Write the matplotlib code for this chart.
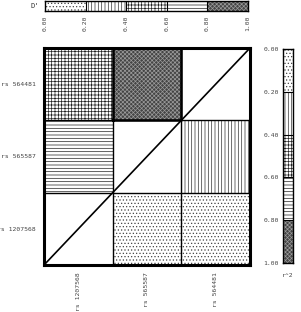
import matplotlib
matplotlib.use("Agg")
import matplotlib.pyplot as plt

plt.rcParams['hatch.linewidth'] = 0.5
plt.rcParams['font.family'] = ['DejaVu Sans Mono']

# SNP order (columns left->right, rows bottom->top)
snps = ['rs 1207568', 'rs 565587', 'rs 564481']
# D' values (upper-left triangle): (row snp, col snp, value)
dprime = [('rs 564481', 'rs 1207568', 0.50),
          ('rs 564481', 'rs 565587', 0.90),
          ('rs 565587', 'rs 1207568', 0.70)]
# r^2 values (lower-right triangle)
rsq = [('rs 565587', 'rs 564481', 0.30),
       ('rs 1207568', 'rs 565587', 0.10),
       ('rs 1207568', 'rs 564481', 0.10)]
bin_edges = [0.0, 0.2, 0.4, 0.6, 0.8, 1.0]
bin_labels = ['0.00', '0.20', '0.40', '0.60', '0.80', '1.00']

# styles per bin
hatches = ['.....', '|||||', '+++++', '-----', 'xxxxxxxx']
faces = ['white', 'white', 'white', 'white', '#444444']
hcols = ['#444444', '#333333', '#222222', '#222222', '#9a9a9a']
txtc = '#444444'
fs = 4.6


def bin_of(v):
    for i in range(5):
        if v < bin_edges[i + 1] or i == 4:
            return i


fig = plt.figure(figsize=(3.01, 3.12), dpi=100)
ax = fig.add_axes([44/301, 1 - 265/312, 206/301, 217/312])
ax.set_xlim(0, 3)
ax.set_ylim(0, 3)
n = len(snps)
idx = {s: i for i, s in enumerate(snps)}

for (r, c, v) in dprime + rsq:
    b = bin_of(v)
    ax.bar(idx[c], 1, width=1, bottom=idx[r], align='edge',
           color=faces[b], edgecolor=hcols[b], hatch=hatches[b], linewidth=0)

for k in range(1, n):
    ax.axhline(k, color='black', lw=1)
    ax.axvline(k, color='black', lw=1)
for (r, c, v) in dprime + rsq:
    if bin_of(v) == 4:
        x0, y0 = idx[c], idx[r]
        ax.plot([x0, x0 + 1, x0 + 1, x0, x0], [y0, y0, y0 + 1, y0 + 1, y0],
                color='black', lw=1.8)
ax.plot([0, 3], [0, 3], color='black', lw=1.2)
for sp in ax.spines.values():
    sp.set_linewidth(2.2)
ax.set_xticks([i + 0.5 for i in range(n)])
ax.set_xticklabels(snps, rotation=90, fontsize=fs, color=txtc)
ax.set_yticks([i + 0.5 for i in range(n)])
ax.set_yticklabels(snps, fontsize=fs, color=txtc)
ax.tick_params(axis='x', length=0, pad=5)
ax.tick_params(axis='y', length=0, pad=6)

# D' legend bar (top)
axd = fig.add_axes([45/301, 1 - 11/312, 203/301, 10/312])
for i in range(5):
    axd.barh(0, bin_edges[i + 1] - bin_edges[i], left=bin_edges[i], height=1, align='edge',
             color=faces[i], edgecolor=hcols[i], hatch=hatches[i], linewidth=0)
    if i > 0:
        axd.axvline(bin_edges[i], color='black', lw=0.8)
axd.set_xlim(0, 1)
axd.set_ylim(0, 1)
axd.set_yticks([])
axd.set_xticks(bin_edges)
axd.set_xticklabels(bin_labels, rotation=90, fontsize=fs, color=txtc)
axd.tick_params(length=0, pad=3)
for sp in axd.spines.values():
    sp.set_linewidth(1.0)
fig.text(39/301, 1 - 6/312, "D'", fontsize=fs + 0.4, color='#333333', ha='right', va='center')

# r^2 legend bar (right)
axr = fig.add_axes([283/301, 1 - 263/312, 10/301, 214/312])
for i in range(5):
    axr.bar(0, bin_edges[i + 1] - bin_edges[i], bottom=bin_edges[i], width=1, align='edge',
            color=faces[i], edgecolor=hcols[i], hatch=hatches[i], linewidth=0)
    if i > 0:
        axr.axhline(bin_edges[i], color='black', lw=0.8)
axr.set_xlim(0, 1)
axr.set_ylim(1, 0)
axr.set_xticks([])
axr.set_yticks(bin_edges)
axr.set_yticklabels(bin_labels, fontsize=fs, color=txtc)
axr.tick_params(length=0, pad=3)
for sp in axr.spines.values():
    sp.set_linewidth(1.0)
axr.set_xlabel('r^2', fontsize=fs, color=txtc, labelpad=7)

fig.savefig('out.png', dpi=100)
